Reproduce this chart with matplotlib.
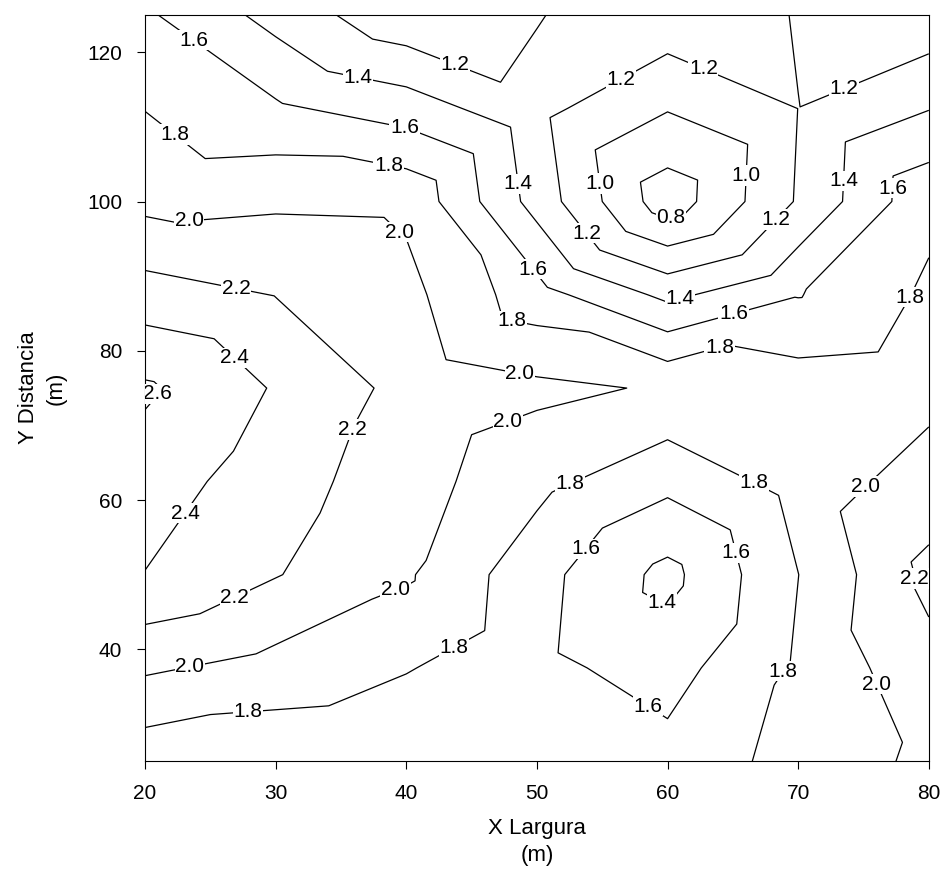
import numpy as np
import matplotlib
matplotlib.use("Agg")
import matplotlib.pyplot as plt
import matplotlib.tri as mtri

plt.rcParams['font.family'] = ['Liberation Sans', 'DejaVu Sans']

# grid of sample points (m)
x_vals = [20, 30, 40, 50, 60, 70, 80]
y_vals = [25, 37.5, 50, 62.5, 75, 87.5, 100, 112.5, 125]

# values, one row per y value (bottom to top)
z_y25 = [1.67, 1.64, 1.61, 1.63, 1.667, 1.872, 2.043]
z_y37 = [2.03, 1.93, 1.813, 1.65, 1.52, 1.83, 2.14]
z_y50 = [2.395, 2.21, 2.025, 1.67, 1.341, 1.798, 2.25]
z_y62 = [2.50, 2.29, 2.086, 1.86, 1.655, 1.881, 2.094]
z_y75 = [2.63, 2.383, 2.14, 2.044, 1.98, 1.90, 1.933]
z_y87 = [2.29, 2.195, 2.06, 1.68, 1.35, 1.59, 1.833]
z_y100 = [1.945, 1.97, 1.96, 1.32, 0.68, 1.22, 1.75]
z_y112 = [1.795, 1.63, 1.504, 1.258, 1.013, 1.202, 1.392]
z_y125 = [1.63, 1.33, 1.05, 1.19, 1.333, 1.19, 1.063]

levels = [0.8, 1.0, 1.2, 1.4, 1.6, 1.8, 2.0, 2.2, 2.4, 2.6]

# where the contour labels sit
label_pos = [
    (23.7, 121.6), (43.7, 118.3), (36.3, 116.5), (39.9, 110.2), (22.3, 109.1),
    (38.7, 105.5), (48.7, 102.4), (23.4, 97.1), (39.9, 96.7), (26.9, 87.7),
    (49.8, 91.1), (48.1, 84.4), (27.5, 80.3), (20.8, 74.4), (48.7, 77.1),
    (36.1, 69.3), (47.9, 70.0), (23.1, 58.2), (26.9, 46.8), (39.1, 48.3),
    (43.7, 40.1), (23.4, 37.9), (27.9, 31.8),
    (56.2, 117.2), (62.7, 117.6), (73.8, 113.8), (54.8, 102.4), (65.8, 103.5),
    (60.2, 98.4), (53.9, 95.9), (68.2, 97.8), (73.4, 102.8), (77.2, 101.8),
    (60.9, 87.3), (65.1, 84.6), (64.0, 80.3), (78.4, 87.3),
    (52.5, 62.2), (66.7, 62.5), (75.3, 61.6), (53.7, 53.5), (65.4, 53.0),
    (59.4, 45.6), (78.7, 49.5), (69.0, 36.9), (76.1, 35.4), (58.4, 32.1),
]

Z = np.array([z_y25, z_y37, z_y50, z_y62, z_y75, z_y87, z_y100, z_y112, z_y125])
X, Y = np.meshgrid(x_vals, y_vals)
nx, ny = len(x_vals), len(y_vals)

# split every cell in two, diagonals alternating (union jack pattern)
triangles = []
for j in range(ny - 1):
    for i in range(nx - 1):
        a = j * nx + i
        b = a + 1
        d = a + nx
        c = d + 1
        if (i + j) % 2 == 0:
            triangles += [[a, b, c], [a, c, d]]
        else:
            triangles += [[a, b, d], [b, c, d]]
tri = mtri.Triangulation(X.ravel(), Y.ravel(), triangles)

fig = plt.figure(figsize=(9.42, 8.8), dpi=100)
ax = fig.add_axes([0.154, 0.135, 0.832, 0.848])

cs = ax.tricontour(tri, Z.ravel(), levels=levels, colors='black', linewidths=0.9)
ax.clabel(cs, fmt='%.1f', manual=label_pos, inline=False, fontsize=15)
for t in cs.labelTexts:
    t.set_rotation(0)
    t.set_bbox(dict(facecolor='white', edgecolor='none', pad=0.5))

ax.set_xlim(20, 80)
ax.set_ylim(25, 125)
ax.set_xticks([20, 30, 40, 50, 60, 70, 80])
ax.set_yticks([40, 60, 80, 100, 120])
ax.tick_params(direction='out', length=6, pad=10.5, labelsize=15)
ax.set_xlabel('X Largura\n(m)', fontsize=16, labelpad=10.5, linespacing=1.38)
ax.set_ylabel('Y Distancia\n(m)', fontsize=16, labelpad=15, linespacing=1.38)

fig.savefig('out.png', dpi=100)
